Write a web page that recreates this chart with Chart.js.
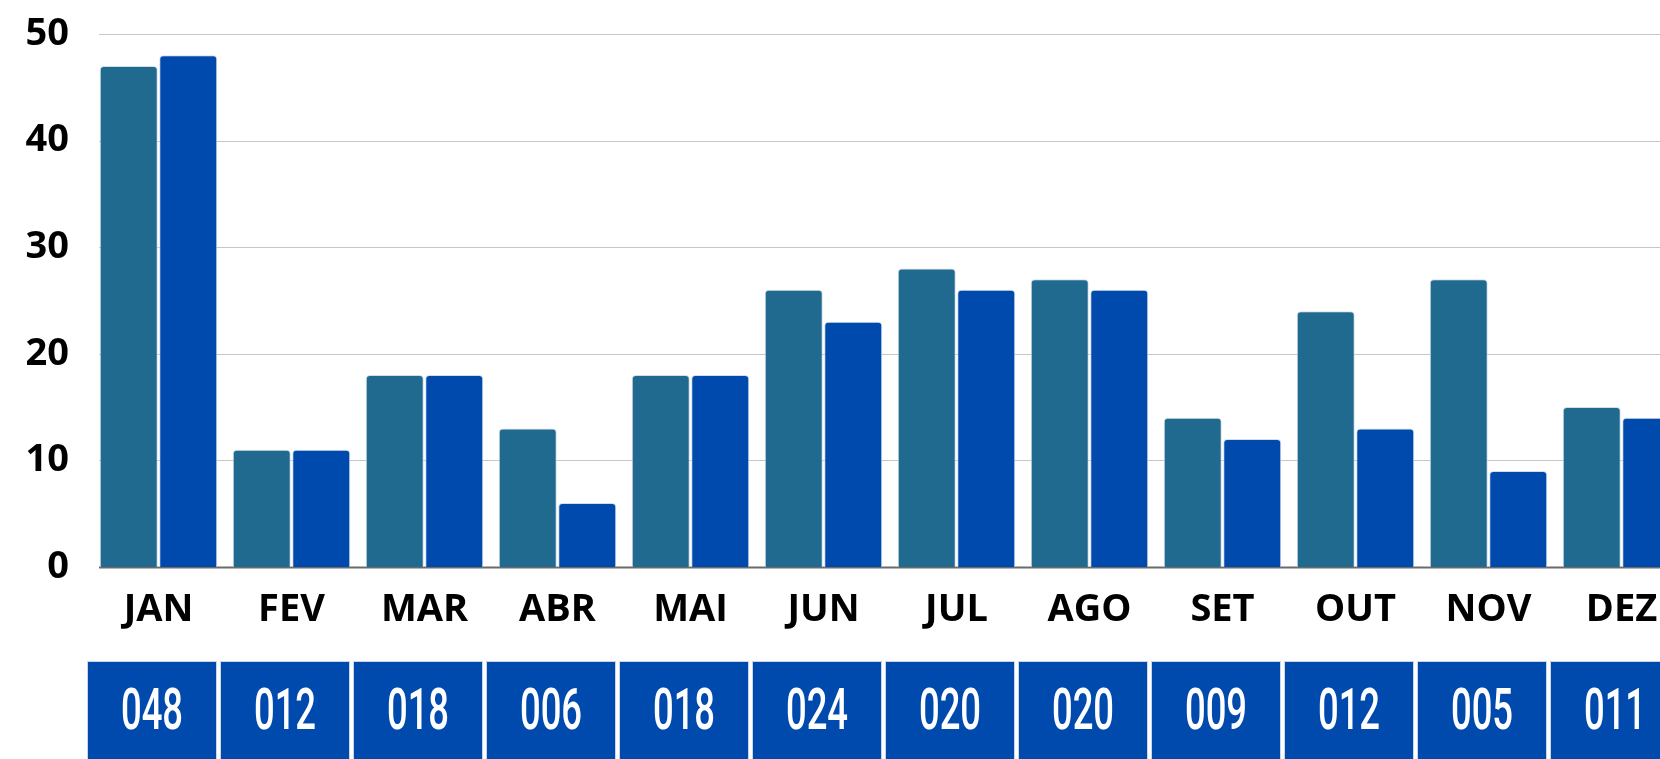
<!DOCTYPE html>
<html>
<head>
<meta charset="utf-8">
<script src="https://cdn.jsdelivr.net/npm/chart.js@4"></script>
<style>
  html, body { margin: 0; padding: 0; overflow: hidden; background: #ffffff; }
  #wrap { width: 1700px; height: 759px; }
</style>
</head>
<body>
<div id="wrap"><canvas id="barChart" width="1700" height="759"></canvas></div>
<script>
const months = ["JAN", "FEV", "MAR", "ABR", "MAI", "JUN", "JUL", "AGO", "SET", "OUT", "NOV", "DEZ"];
const seriesA = [47, 11, 18, 13, 18, 26, 28, 27, 14, 24, 27, 15];
const seriesB = [48, 11, 18, 6, 18, 23, 26, 26, 12, 13, 9, 14];
const boxValues = ["048", "012", "018", "006", "018", "024", "020", "020", "009", "012", "005", "011"];
const yTicks = [0, 10, 20, 30, 40, 50];

const TEAL = "#216a8f";
const BLUE = "#004aad";

// horizontal grid lines, start a bit right of the chart area like the original
const gridPlugin = {
  id: "gridLines",
  beforeDatasetsDraw(chart) {
    const { ctx, chartArea, scales } = chart;
    ctx.save();
    yTicks.forEach((v) => {
      const y = Math.round(scales.y.getPixelForValue(v)) + 0.5;
      ctx.beginPath();
      ctx.moveTo(chartArea.left + 7, y);
      ctx.lineTo(chartArea.right, y);
      if (v === 0) {
        ctx.strokeStyle = "#6b6b6b";
        ctx.lineWidth = 2;
      } else {
        ctx.strokeStyle = "#c6c6c6";
        ctx.lineWidth = 1;
      }
      ctx.stroke();
    });
    ctx.restore();
  },
};

// blue boxes with totals under each month
const boxPlugin = {
  id: "boxRow",
  afterDraw(chart) {
    const { ctx, chartArea, scales } = chart;
    const top = chartArea.bottom + 94;
    const w = 130;
    const h = 110;
    ctx.save();
    boxValues.forEach((txt, i) => {
      const cx = scales.x.getPixelForValue(i) - 6.5;
      ctx.fillStyle = BLUE;
      ctx.fillRect(cx - w / 2, top, w, h);
      ctx.strokeStyle = "#c9d6ea";
      ctx.lineWidth = 1;
      ctx.strokeRect(cx - w / 2 + 0.5, top + 0.5, w - 1, h - 1);

      ctx.save();
      ctx.translate(cx, top + 54);
      ctx.scale(0.64, 1);
      ctx.fillStyle = "#ffffff";
      ctx.font = "500 57px Roboto";
      ctx.textAlign = "center";
      ctx.textBaseline = "middle";
      ctx.fillText(txt, 0, 0);
      ctx.restore();
    });
    ctx.restore();
  },
};

function createBarChart() {
  const ctx = document.getElementById("barChart").getContext("2d");

  const barStyle = {
    borderColor: "#d4deea",
    borderWidth: 1,
    borderSkipped: "bottom",
    borderRadius: { topLeft: 4, topRight: 4, bottomLeft: 0, bottomRight: 0 },
    categoryPercentage: 0.895,
    barPercentage: 0.975,
  };

  window.barChart = new Chart(ctx, {
    type: "bar",
    data: {
      labels: months,
      datasets: [
        { label: "A", data: seriesA, backgroundColor: TEAL, ...barStyle },
        { label: "B", data: seriesB, backgroundColor: BLUE, ...barStyle },
      ],
    },
    options: {
      responsive: false,
      animation: false,
      layout: { padding: { top: 34, right: 12, bottom: 0, left: 0 } },
      plugins: {
        legend: { display: false },
        tooltip: { enabled: false },
      },
      scales: {
        x: {
          grid: { display: false, drawTicks: false },
          border: { display: false },
          ticks: {
            color: "#000000",
            font: { family: "'Open Sans'", size: 38, weight: "bold" },
            padding: 20,
            maxRotation: 0,
            autoSkip: false,
          },
          afterFit: (scale) => {
            scale.height = 192;
            scale.paddingLeft = 0;
            scale.paddingRight = 0;
          },
        },
        y: {
          min: 0,
          max: 50,
          grid: { display: false, drawTicks: false },
          border: { display: false },
          ticks: {
            stepSize: 10,
            color: "#000000",
            font: { family: "'Open Sans'", size: 38, weight: "bold" },
            padding: 23,
          },
          afterFit: (scale) => {
            scale.width = 92;
            scale.paddingTop = 0;
            scale.paddingBottom = 0;
          },
        },
      },
    },
    plugins: [gridPlugin, boxPlugin],
  });
}

createBarChart();
</script>
</body>
</html>
